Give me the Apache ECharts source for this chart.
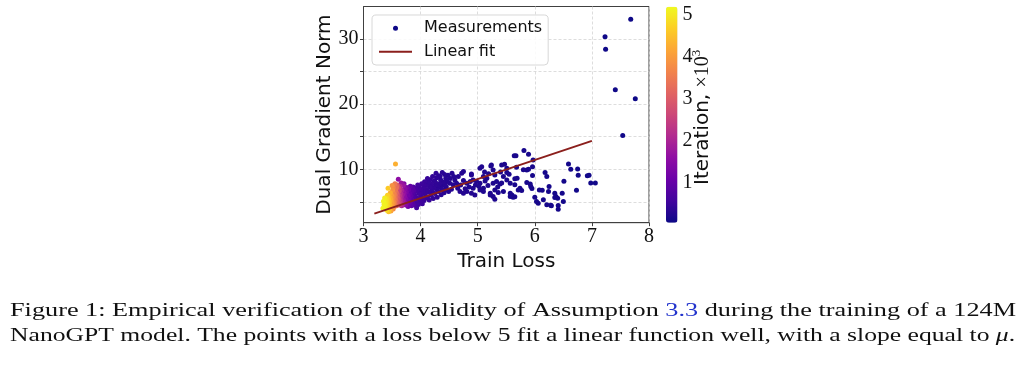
<!DOCTYPE html>
<html><head><meta charset="utf-8">
<script src="https://cdn.jsdelivr.net/npm/echarts@6/dist/echarts.min.js"></script>
<style>html,body{margin:0;padding:0;background:#fff}#chart{width:1027px;height:381px}</style>
</head><body><div id="chart"></div><script>
// [train loss, dual gradient norm, iteration (x10^3)]
const earlyPoints = [
 [7.76,20.84,0.05],[7.68,33.05,0.06],[7.23,30.34,0.07],[7.24,28.45,0.07],[7.41,22.22,0.08],[7.54,15.18,0.09]
];
const highLossPoints = [
 [7.06,7.91,0.10],[6.98,7.91,0.10],[6.95,9.10,0.10],[6.92,9.00,0.11],[6.76,9.10,0.11],[6.75,10.06,0.11],[6.73,6.79,0.11],
 [6.63,10.02,0.12],[6.59,10.83,0.12],[6.51,8.17,0.12],[6.48,6.33,0.12],[6.50,5.05,0.12],[6.41,4.43,0.13],[6.41,3.88,0.13],
 [6.35,5.66,0.13],[6.37,5.81,0.13],[6.40,5.57,0.13],[6.35,6.33,0.13],[6.29,4.39,0.13],[6.28,4.49,0.14],[6.25,7.35,0.14],
 [6.24,6.58,0.14],[6.21,8.88,0.14],[6.21,4.54,0.14],[6.18,9.49,0.14],[6.15,5.31,0.14],[6.13,6.79,0.14],[6.08,6.84,0.15],
 [6.06,4.80,0.15],[6.03,5.05,0.15],[6.00,5.72,0.15],[5.97,11.44,0.15],[5.96,10.41,0.15],[5.96,9.03,0.15],[5.95,7.04,0.15],
 [5.93,7.35,0.16],[5.92,7.76,0.16],[5.86,7.96,0.16],[5.89,12.32,0.16],[5.86,9.91,0.16],[5.89,10.00,0.16],[5.81,12.87,0.16],
 [5.80,9.95,0.17],[5.74,7.10,0.17],[5.77,6.73,0.17],[5.71,6.84,0.17],[5.68,10.30,0.17],[5.67,12.10,0.17],[5.64,12.10,0.17],
 [5.65,8.53,0.18],[5.69,8.63,0.18],[5.65,7.61,0.18],[5.65,5.80,0.18],[5.62,5.72,0.18],[5.60,6.07,0.18],[5.57,6.33,0.18],
 [5.57,5.81,0.19],[5.57,7.87,0.19],[5.55,9.25,0.19],[5.51,9.49,0.19],[5.51,8.37,0.19],[5.51,10.17,0.19],[5.47,10.78,0.20],[5.42,10.67,0.20]
];
const midLossPoints = [
 [5.45,6.58,0.20],[5.39,7.76,0.20],[5.42,7.90,0.20],[5.45,8.90,0.20],[5.40,9.60,0.20],[5.36,6.43,0.21],[5.33,8.11,0.21],
 [5.30,9.14,0.21],[5.30,6.84,0.21],[5.30,5.41,0.21],[5.35,7.30,0.21],[5.27,7.87,0.22],[5.27,5.81,0.22],[5.27,9.90,0.22],
 [5.24,10.67,0.22],[5.23,10.52,0.22],[5.22,6.33,0.22],[5.19,9.30,0.22],[5.22,6.07,0.23],[5.16,8.63,0.23],[5.10,8.88,0.23],
 [5.10,7.10,0.23],[5.10,6.58,0.23],[5.18,7.50,0.23],[5.13,8.20,0.23],[5.12,9.60,0.23],[5.07,10.41,0.24],[5.04,10.17,0.24],
 [5.04,7.87,0.24],[5.04,6.84,0.24],[5.02,7.40,0.24],[4.98,8.11,0.25],[4.95,6.07,0.25],[4.92,8.37,0.25],[4.92,7.10,0.25],
 [4.96,7.60,0.25],[4.89,9.29,0.26],[4.89,9.14,0.26],[4.89,6.33,0.26],[4.87,8.11,0.26],[4.85,7.30,0.26],[4.81,7.87,0.27],
 [4.81,6.58,0.27],[4.75,9.65,0.27],[4.78,7.00,0.27],[4.75,8.27,0.27],[4.75,6.33,0.28],[4.72,9.40,0.28],[4.69,6.58,0.28],
 [4.66,8.88,0.28],[4.70,7.60,0.28],[4.65,7.10,0.28],[4.63,7.87,0.29],[4.60,8.37,0.29],[4.57,7.61,0.29],[4.58,8.90,0.29],
 [4.55,9.40,0.29],[4.54,6.95,0.30],[4.51,7.87,0.30],[4.49,6.58,0.30],[4.52,8.60,0.30],[4.48,9.10,0.30],[4.46,8.11,0.31],
 [4.43,6.84,0.31],[4.45,7.30,0.31],[4.40,7.61,0.32],[4.34,7.35,0.32]
];
const denseBandPoints = [
 [4.44,8.6,0.33],[4.42,9.2,0.33],[4.43,7.6,0.33],[4.41,6.4,0.34],[4.40,8.0,0.34],[4.39,6.8,0.34],[4.38,9.5,0.35],[4.37,7.0,0.35],
 [4.36,6.1,0.36],[4.35,8.4,0.36],[4.34,8.9,0.36],[4.33,7.8,0.37],[4.32,9.0,0.37],[4.31,6.6,0.38],[4.30,7.3,0.38],[4.29,6.9,0.38],
 [4.29,5.7,0.39],[4.28,8.7,0.39],[4.27,9.4,0.40],[4.26,7.6,0.40],[4.26,8.0,0.40],[4.25,6.3,0.41],[4.24,8.2,0.41],[4.23,7.1,0.42],
 [4.22,5.5,0.42],[4.21,6.4,0.42],[4.21,8.9,0.43],[4.20,6.8,0.43],[4.19,7.7,0.44],[4.18,6.0,0.44],[4.18,7.2,0.44],[4.17,8.4,0.45],
 [4.16,7.3,0.45],[4.15,5.3,0.46],[4.14,6.5,0.46],[4.14,8.3,0.46],[4.13,7.9,0.47],[4.12,8.6,0.47],[4.12,5.6,0.47],[4.11,6.9,0.48],
 [4.10,5.8,0.48],[4.09,7.5,0.49],[4.09,6.6,0.49],[4.08,6.2,0.50],[4.07,8.1,0.50],[4.06,5.2,0.51],[4.06,7.6,0.51],[4.05,7.0,0.52],
 [4.04,6.6,0.52],[4.04,5.5,0.52],[4.03,4.7,0.53],[4.02,7.8,0.54],[4.01,5.9,0.54],[4.01,6.4,0.54],[4.00,6.9,0.55],[3.99,5.0,0.56],
 [3.98,7.3,0.57],[3.98,5.4,0.57],[3.97,6.3,0.58],[3.96,4.6,0.59],[3.96,6.9,0.59],[3.95,7.6,0.60],[3.94,5.6,0.61],[3.94,4.8,0.61],
 [3.93,4.1,0.62],[3.93,6.7,0.63],[3.92,5.2,0.64],[3.91,7.1,0.65],[3.90,6.0,0.66],[3.89,4.5,0.68],[3.89,6.5,0.69],[3.88,5.5,0.70],
 [3.87,7.3,0.72],[3.86,4.9,0.74],[3.86,6.2,0.76],[3.85,5.8,0.78]
];
const purplePoints = [
 [3.88,6.8,0.80],[3.87,4.6,0.82],[3.86,7.0,0.85],[3.85,5.3,0.88],[3.84,6.6,0.90],[3.84,4.4,0.92],[3.83,5.9,0.95],[3.82,7.4,0.98],
 [3.82,5.0,1.00],[3.81,6.3,1.03],[3.80,4.7,1.06],[3.80,5.6,1.10],[3.79,6.9,1.13],[3.78,4.3,1.16],[3.78,6.0,1.20],[3.77,5.2,1.24],
 [3.76,7.2,1.28],[3.76,4.8,1.32],[3.75,6.5,1.36],[3.74,5.5,1.40],[3.71,7.8,1.42],[3.74,4.5,1.45],[3.73,7.0,1.50],[3.72,5.9,1.55],
 [3.61,8.48,1.58],[3.72,4.9,1.60],[3.71,6.4,1.65],[3.70,5.3,1.70],[3.66,7.9,1.72],[3.70,7.5,1.75],[3.69,4.6,1.80],[3.68,6.1,1.85],
 [3.68,5.1,1.90],[3.67,6.8,1.95],[3.67,4.4,2.00]
];
const magentaPoints = [
 [3.66,5.7,2.05],[3.66,4.8,2.10],[3.64,7.4,2.12],[3.65,6.3,2.15],[3.65,5.2,2.20],[3.64,6.9,2.30],[3.64,4.5,2.35],[3.63,5.9,2.40],
 [3.63,4.9,2.50],[3.62,6.6,2.55],[3.62,5.4,2.60],[3.61,7.2,2.70],[3.61,4.7,2.75],[3.60,6.1,2.80],[3.60,5.6,2.90],[3.59,7.6,2.95],
 [3.59,5.0,3.00],[3.58,6.4,3.10],[3.58,4.4,3.15],[3.57,5.8,3.20],[3.58,7.3,3.25],[3.57,7.0,3.30],[3.56,5.3,3.35],[3.56,6.7,3.40],
 [3.55,4.8,3.45],[3.55,6.1,3.50],[3.55,7.8,3.50]
];
const yellowPoints = [
 [3.54,5.5,3.55],[3.54,4.3,3.60],[3.53,6.3,3.65],[3.52,7.2,3.70],[3.53,5.0,3.70],[3.52,3.9,3.75],[3.52,5.8,3.80],[3.52,4.7,3.80],
 [3.51,4.6,3.85],[3.50,7.5,3.85],[3.51,6.8,3.90],[3.50,5.3,3.95],[3.50,4.1,4.00],[3.50,4.9,4.00],[3.49,6.0,4.05],[3.49,4.8,4.10],
 [3.49,5.1,4.10],[3.48,3.6,4.15],[3.48,5.6,4.20],[3.48,4.3,4.20],[3.47,4.4,4.25],[3.47,6.4,4.30],[3.47,5.3,4.30],[3.56,10.83,4.30],
 [3.46,5.1,4.35],[3.46,3.9,4.40],[3.46,4.5,4.40],[3.45,5.8,4.45],[3.45,4.7,4.50],[3.45,5.0,4.50],[3.44,3.5,4.55],[3.44,5.4,4.60],
 [3.44,4.9,4.60],[3.43,7.1,4.62],[3.43,4.2,4.65],[3.43,5.2,4.65],[3.42,6.0,4.70],[3.42,4.9,4.75],[3.42,4.4,4.75],[3.41,3.7,4.80],
 [3.41,5.5,4.85],[3.40,4.5,4.90],[3.40,5.0,4.90],[3.39,5.2,4.95],[3.39,3.9,5.00],[3.38,4.4,5.00],[3.38,4.8,5.02],[3.37,5.6,5.05],
 [3.37,4.2,5.08],[3.36,4.6,5.10],[3.35,5.1,5.12],[3.34,4.0,5.14]
];
const fitLoss = [3.19, 7.0];
const fitNorm = [3.2, 14.36];
const xTicks = [3, 4, 5, 6, 7, 8];
const yTicks = [5, 10, 15, 20, 25, 30];
const yLabels = [10, 20, 30];
const iterTicks = [1, 2, 3, 4, 5];
const captionLine1 = 'Figure 1: Empirical verification of the validity of Assumption {link|3.3} during the training of a 124M';
const captionLine2 = 'NanoGPT model. The points with a loss below 5 fit a linear function well, with a slope equal to {mu|μ}.';

const measurements = [].concat(earlyPoints, highLossPoints, midLossPoints, denseBandPoints, purplePoints, magentaPoints, yellowPoints);
const fitData = fitLoss.map((v, i) => [v, fitNorm[i]]);
const plasma = ['#0d0887','#41049d','#6a00a8','#8f0da4','#b12a90','#cc4778','#e16462','#f2844b','#fca636','#fcce25','#f0f921'];

const serif = '"Liberation Serif", "DejaVu Serif", serif';
const sans = '"DejaVu Sans", sans-serif';

function measure(str, font) {
  const ctx = document.createElement('canvas').getContext('2d');
  ctx.font = font;
  return ctx.measureText(str.replace(/\{\w+\|([^}]*)\}/g, '$1')).width;
}
const capFont = '19px "Liberation Serif"';
const capW = 1006;
const s1 = capW / measure(captionLine1, capFont);
const s2 = capW / measure(captionLine2, capFont);

const chart = echarts.init(document.getElementById('chart'), null, {renderer: 'canvas'});
chart.setOption({
  animation: false,
  backgroundColor: '#fff',
  grid: [
    {left: 363.5, top: 6.5, width: 285.5, height: 216.2, show: true, borderColor: '#404040', borderWidth: 1, backgroundColor: 'transparent'},
    {left: 666, top: 6.7, width: 11.5, height: 216}
  ],
  xAxis: [
    {type: 'value', gridIndex: 0, min: xTicks[0], max: xTicks[xTicks.length - 1], interval: 1,
     name: 'Train Loss', nameLocation: 'middle', nameGap: 19,
     nameTextStyle: {fontFamily: sans, fontSize: 20, color: '#111', verticalAlign: 'top'},
     axisLine: {show: true, lineStyle: {color: '#404040'}},
     axisTick: {show: true, inside: false, length: 3.5, lineStyle: {color: '#404040'}},
     axisLabel: {fontFamily: serif, fontSize: 20, color: '#111', margin: 4},
     splitLine: {show: true, lineStyle: {color: '#d4d4d4', type: [3, 2], width: 0.8}}},
    {type: 'value', gridIndex: 1, show: false, min: 0, max: 1}
  ],
  yAxis: [
    {type: 'value', gridIndex: 0, min: 1.8, max: 35,
     name: 'Dual Gradient Norm', nameLocation: 'middle', nameGap: 28,
     nameTextStyle: {fontFamily: sans, fontSize: 20, color: '#111'},
     axisLine: {show: true, lineStyle: {color: '#404040'}},
     axisTick: {show: true, inside: false, length: 3.5, customValues: yTicks, lineStyle: {color: '#404040'}},
     axisLabel: {fontFamily: serif, fontSize: 20, color: '#111', margin: 5, customValues: yLabels},
     splitLine: {show: true, lineStyle: {color: '#d4d4d4', type: [3, 2], width: 0.8}}},
    {type: 'value', gridIndex: 1, position: 'right', min: 0.05, max: 5.2,
     axisLine: {show: false},
     axisTick: {show: true, inside: false, length: 3.5, customValues: iterTicks, lineStyle: {color: '#222'}},
     axisLabel: {fontFamily: serif, fontSize: 20, color: '#111', margin: 5, customValues: iterTicks},
     splitLine: {show: false}}
  ],
  visualMap: {
    type: 'continuous', seriesIndex: 0, dimension: 2, min: 0.05, max: 5.2,
    calculable: false, hoverLink: false, show: true,
    left: 666, top: 6.7, itemWidth: 11.5, itemHeight: 216, padding: 0,
    text: null, inRange: {color: plasma}
  },
  legend: {
    left: 372, top: 15, orient: 'vertical', padding: [5.3, 6, 5.3, 6], itemGap: 7.4,
    itemWidth: 33, itemHeight: 5,
    backgroundColor: 'rgba(255,255,255,0.85)', borderColor: '#d8d8d8', borderWidth: 1, borderRadius: 4,
    textStyle: {fontFamily: sans, fontSize: 16, color: '#111', padding: [0, 0, 0, 7]},
    data: [
      {name: 'Measurements', icon: 'circle', itemStyle: {color: '#0d0887'}},
      {name: 'Linear fit', itemStyle: {opacity: 0}, lineStyle: {color: '#8b1f1c', width: 2, opacity: 1}}
    ]
  },
  series: [
    {name: 'Measurements', type: 'scatter', xAxisIndex: 0, yAxisIndex: 0, data: measurements,
     symbolSize: 5, itemStyle: {opacity: 1}, encode: {x: 0, y: 1}},
    {name: 'Linear fit', type: 'line', xAxisIndex: 0, yAxisIndex: 0, data: fitData,
     symbol: 'none', lineStyle: {color: '#8b1f1c', width: 2}, itemStyle: {color: '#8b1f1c'}, z: 5}
  ],
  graphic: [
    {type: 'text', x: 703, y: 185, rotation: Math.PI / 2,
     style: {text: '{a|Iteration, }{b|×10}{s|3}', align: 'left', verticalAlign: 'middle',
       rich: {a: {fontFamily: sans, fontSize: 20, fill: '#111', lineHeight: 26},
              b: {fontFamily: serif, fontSize: 20, fill: '#111', lineHeight: 26},
              s: {fontFamily: serif, fontSize: 13, fill: '#111', verticalAlign: 'top', lineHeight: 26}}}},
    {type: 'text', x: 10, y: 311, scaleX: s1,
     style: {text: captionLine1, font: capFont, fill: '#111', verticalAlign: 'middle', align: 'left',
       rich: {link: {fill: '#2233cc', font: capFont}}}},
    {type: 'text', x: 10, y: 336, scaleX: s2,
     style: {text: captionLine2, font: capFont, fill: '#111', verticalAlign: 'middle', align: 'left',
       rich: {mu: {fill: '#111', font: 'italic 19px "Liberation Serif"'}}}}
  ]
});
</script></body></html>
